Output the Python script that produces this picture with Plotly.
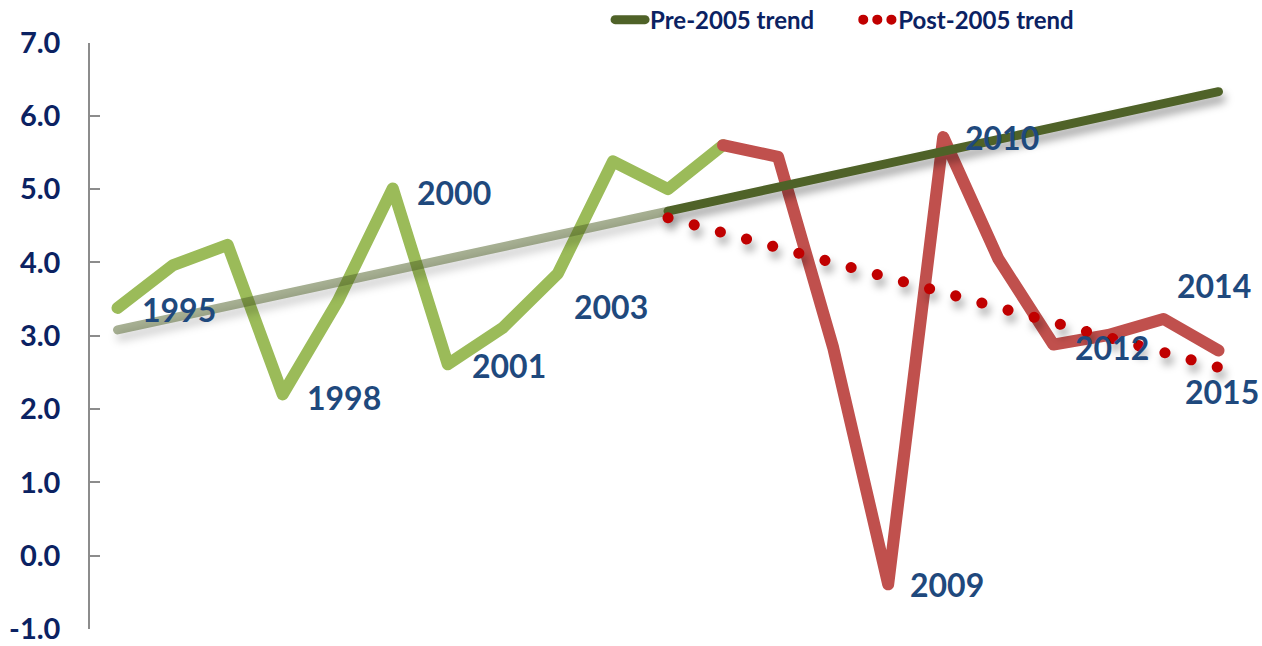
import plotly.graph_objects as go

# Annual values, 1995-2015
years = list(range(1995, 2016))
values = [3.38, 3.96, 4.24, 2.20, 3.47, 5.01, 2.61, 3.11, 3.85, 5.38, 5.00,
          5.60, 5.44, 2.84, -0.39, 5.71, 4.05, 2.88, 3.01, 3.23, 2.80]

# Trend lines
pre_trend_years = [1995, 2005, 2015]
pre_trend_vals = [3.08, 4.70, 6.33]
post_trend_years = [2005, 2015]
post_trend_vals = [4.61, 2.57]

# Labelled years
label_years = [1995, 1998, 2000, 2001, 2003, 2009, 2010, 2012, 2014, 2015]

y_ticks = [-1, 0, 1, 2, 3, 4, 5, 6, 7]
y_ticktext = ["-1.0", "0.0", "1.0", "2.0", "3.0", "4.0", "5.0", "6.0", "7.0"]

NAVY = "#0B2262"
LABEL_BLUE = "#1F497D"
FONT = "Lato"

# label offsets in px (xshift, yshift)
label_offsets = {
    1995: (22, -2), 1998: (22, -3), 2000: (22, -4), 2001: (22, -1),
    2003: (14, -33), 2009: (20, 0), 2010: (20, 0), 2012: (20, -3),
    2014: (12, 33), 2015: (-35, -41),
}

split = years.index(2006)

fig = go.Figure()

# actual series: green before 2006, red after
fig.add_trace(go.Scatter(x=years[:split + 1], y=values[:split + 1], mode="lines",
                         line=dict(color="#9BBB59", width=12), showlegend=False))
fig.add_trace(go.Scatter(x=years[split:], y=values[split:], mode="lines",
                         line=dict(color="#C0504D", width=12), showlegend=False))

# pre-2005 trend: faded over the fitted period, solid afterwards
fig.add_trace(go.Scatter(x=pre_trend_years[:2], y=pre_trend_vals[:2], mode="lines",
                         line=dict(color="rgba(79,98,40,0.5)", width=9), showlegend=False))
fig.add_trace(go.Scatter(x=pre_trend_years[1:], y=pre_trend_vals[1:], mode="lines",
                         line=dict(color="#4F6228", width=9),
                         name="Pre-2005 trend", legend="legend"))
fig.add_trace(go.Scatter(x=post_trend_years, y=post_trend_vals, mode="lines",
                         line=dict(color="#C00000", width=11, dash="0.1px,27px"),
                         showlegend=False))
# legend entry for the dotted trend (tighter dots so three fit)
fig.add_trace(go.Scatter(x=[None], y=[None], mode="lines",
                         line=dict(color="#C00000", width=10, dash="0.1px,14px"),
                         name="Post-2005 trend", legend="legend2"))

for yr in label_years:
    dx, dy = label_offsets[yr]
    fig.add_annotation(x=yr, y=values[years.index(yr)], text=str(yr), showarrow=False,
                       xanchor="left", yanchor="middle", xshift=dx, yshift=dy,
                       font=dict(family=FONT, size=32, color=LABEL_BLUE, weight="bold"))

legend_font = dict(family=FONT, size=24, color=NAVY, weight="bold")

fig.update_layout(
    width=1262, height=646,
    margin=dict(l=90, r=16, t=36, b=17),
    plot_bgcolor="white", paper_bgcolor="white",
    hovermode=False,
    legend=dict(x=0.4834, y=0.969, xref="container", yref="container",
                xanchor="left", yanchor="middle",
                orientation="h", font=legend_font, bgcolor="rgba(0,0,0,0)"),
    legend2=dict(x=0.680, y=0.969, xref="container", yref="container",
                 xanchor="left", yanchor="middle",
                 orientation="h", font=legend_font, bgcolor="rgba(0,0,0,0)"),
    xaxis=dict(range=[1994.5, 2015.5], visible=False),
    yaxis=dict(range=[-1, 7], tickvals=y_ticks, ticktext=y_ticktext,
               showgrid=False, zeroline=False, automargin=False,
               showline=True, linecolor="#8C8C8C", linewidth=1.5,
               ticks="inside", ticklen=10, tickcolor="#8C8C8C", tickwidth=1.5,
               ticklabelstandoff=22, ticklabeloverflow="allow",
               tickfont=dict(family=FONT, size=29, color=NAVY, weight="bold")),
)

# no page margin, round line caps/joins like the original, drop shadows on trends
post_js = """
document.body.style.margin = '0';
document.documentElement.style.overflow = 'hidden';
var gd = document.getElementById('{plot_id}');
gd.querySelectorAll('path.js-line').forEach(function(p){
    p.style.strokeLinecap = 'round';
    p.style.strokeLinejoin = 'round';
});
var tr = gd.querySelectorAll('.scatterlayer .trace');
[2, 3, 4].forEach(function(i){
    if (tr[i]) tr[i].style.filter = 'drop-shadow(3px 7px 4px rgba(0,0,0,0.35))';
});
"""

fig.write_html("out.html", post_script=post_js, config={"displayModeBar": False})
